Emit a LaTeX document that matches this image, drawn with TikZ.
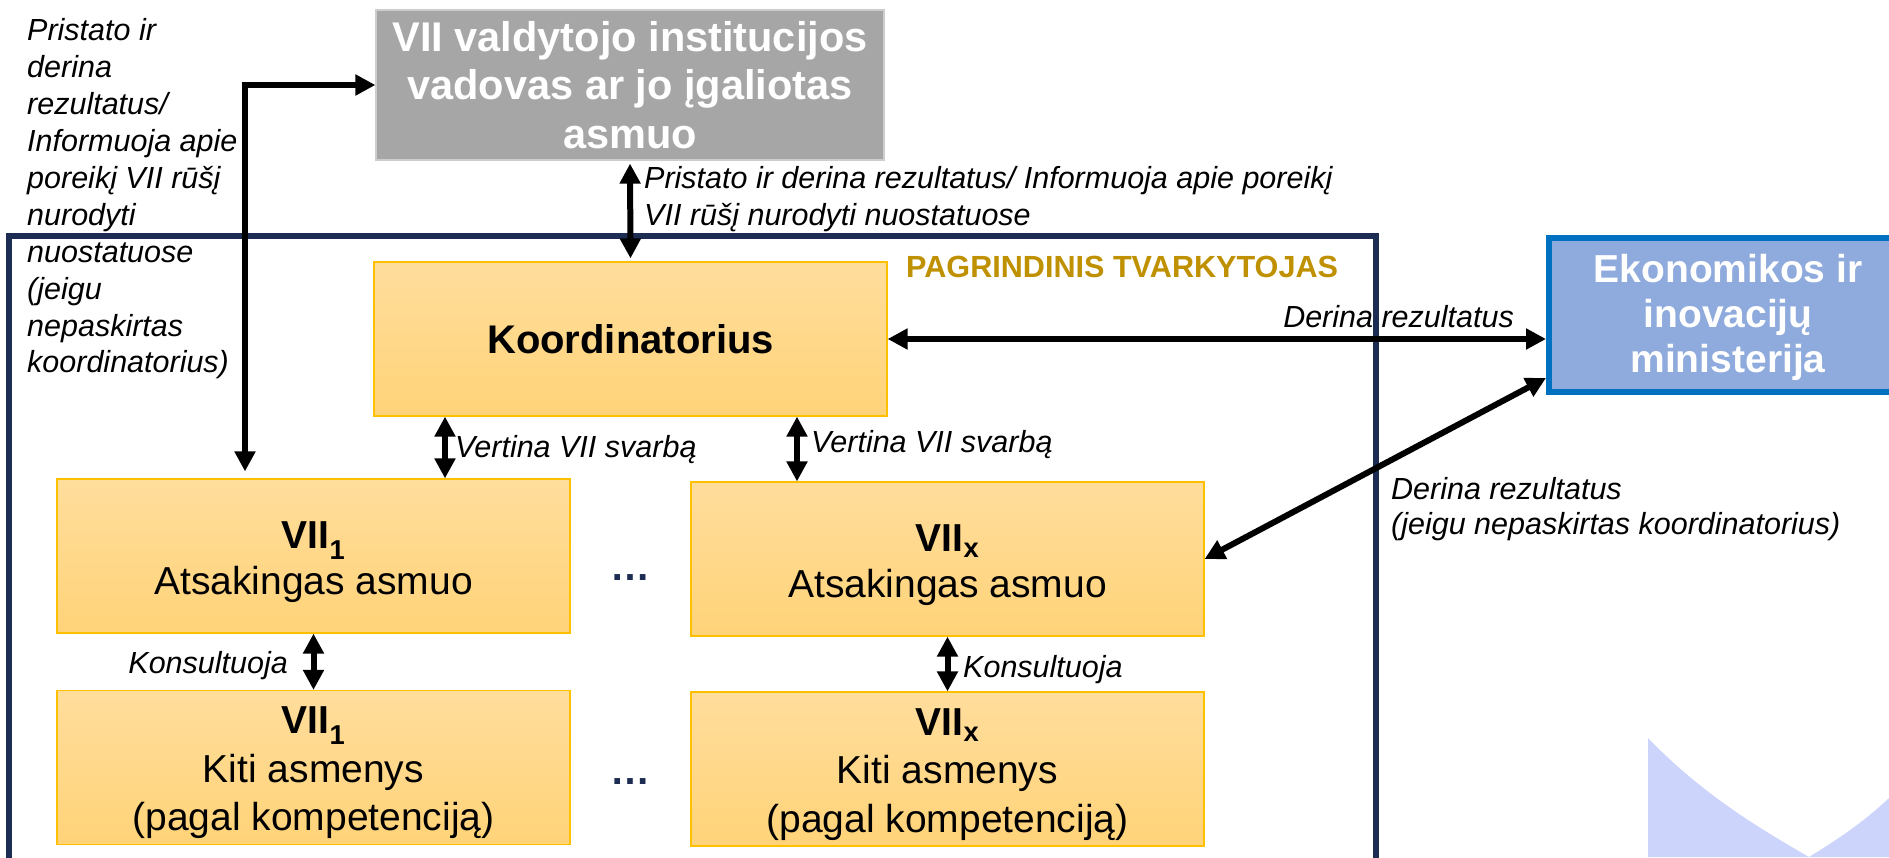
\documentclass[tikz,border=0pt]{standalone}
\usepackage{fontspec}
\setmainfont{Liberation Sans}
\usetikzlibrary{arrows.meta}
\definecolor{navy}{RGB}{28,44,82}
\definecolor{boxtop}{RGB}{255,221,156}
\definecolor{boxbot}{RGB}{255,211,120}
\definecolor{boxline}{RGB}{255,192,0}
\definecolor{grayfill}{RGB}{166,166,166}
\definecolor{grayline}{RGB}{205,205,205}
\definecolor{ekonfill}{RGB}{143,170,220}
\definecolor{ekonline}{RGB}{0,112,192}
\definecolor{goldtext}{RGB}{191,144,0}
\definecolor{wmark}{RGB}{204,212,252}
\begin{document}
\begin{tikzpicture}[x=1pt,y=-1pt,
  arr/.style={line width=6pt, {Triangle[length=20pt,width=20pt]}-{Triangle[length=20pt,width=20pt]}},
  obox/.style={draw=boxline, line width=1.2pt, top color=boxtop, bottom color=boxbot,
    minimum width=513pt, minimum height=154pt, inner sep=0pt, align=center,
    font=\fontsize{39}{46}\selectfont},
  graybox/.style={draw=grayline, line width=1.2pt, fill=grayfill, text=white,
    minimum width=508pt, minimum height=150pt, inner sep=0pt, align=center,
    font=\fontsize{41.5}{48.5}\selectfont\bfseries},
  ekonbox/.style={draw=ekonline, line width=6pt, fill=ekonfill, text=white,
    minimum width=358pt, minimum height=154pt, inner sep=0pt, align=center,
    font=\fontsize{39}{45}\selectfont\bfseries},
  lbl/.style={inner sep=0pt, font=\fontsize{30.5}{36.9}\selectfont\itshape},
  dotsnode/.style={inner sep=0pt, text=navy, font=\fontsize{40}{45}\selectfont\bfseries}
]
\useasboundingbox (0,0) rectangle (1889,857);
\clip (0,0) rectangle (1889,857);
% watermark shape
\fill[wmark] (1648,738) .. controls (1700,792) and (1755,826) .. (1809,857) -- (1648,857) -- cycle;
\fill[wmark] (1809,857) .. controls (1840,838) and (1866,820) .. (1889,798) -- (1889,857) -- cycle;
% frame
\draw[navy, line width=6pt] (9,880) -- (9,236) -- (1376,236) -- (1376,880);
% boxes
\node[graybox] (gray) at (630,85) {VII valdytojo institucijos\\vadovas ar jo įgaliotas\\asmuo};
\node[obox, font=\fontsize{40}{47}\selectfont\bfseries] (koord) at (630.5,339) {Koordinatorius};
\node[obox] (v1a) at (313.5,556) {{\bfseries\rule{0pt}{40pt}VII\textsubscript{1}}\\Atsakingas asmuo};
\node[obox] (vxa) at (947.5,559) {{\bfseries\rule{0pt}{40pt}VII\textsubscript{x}}\\Atsakingas asmuo};
\node[obox, font=\fontsize{39}{48.5}\selectfont] (v1k) at (313.5,767.5) {{\bfseries\rule{0pt}{38pt}VII\textsubscript{1}}\\Kiti asmenys\\(pagal kompetenciją)};
\node[obox, font=\fontsize{39}{48.5}\selectfont] (vxk) at (947.5,769) {{\bfseries\rule{0pt}{38pt}VII\textsubscript{x}}\\Kiti asmenys\\(pagal kompetenciją)};
\node[ekonbox] (ekon) at (1728,315) {\rule{0pt}{33pt}Ekonomikos ir\\inovacijų\\ministerija};
% title of frame
\node[anchor=west, inner sep=0pt, text=goldtext, font=\fontsize{30.6}{36}\selectfont\bfseries] (ptv) at (906,267) {PAGRINDINIS TVARKYTOJAS};
% ellipses
\node[dotsnode, anchor=base] (dots1) at (630,580) {…};
\node[dotsnode, anchor=base] (dots2) at (630,784) {…};
% labels
\node[lbl, anchor=west, align=left] (lblL) at (27,199) {Pristato ir\\derina\\rezultatus/\\Informuoja apie\\poreikį VII rūšį\\nurodyti\\nuostatuose\\(jeigu\\nepaskirtas\\koordinatorius)};
\node[lbl, anchor=west, align=left] (lblT) at (644,199) {Pristato ir derina rezultatus/ Informuoja apie poreikį\\VII rūšį nurodyti nuostatuose};
\node[lbl, anchor=east] (lblD) at (1514,317) {Derina rezultatus};
\node[lbl, anchor=west] (lblV1) at (455,450) {Vertina VII svarbą};
\node[lbl, anchor=west] (lblV2) at (811,445) {Vertina VII svarbą};
\node[lbl, anchor=east] (lblK1) at (288,666) {Konsultuoja};
\node[lbl, anchor=west] (lblK2) at (963,670) {Konsultuoja};
\node[lbl, anchor=west, align=left, font=\fontsize{30.5}{34.5}\selectfont\itshape] (lblD2) at (1391,509) {Derina rezultatus\\(jeigu nepaskirtas koordinatorius)};
% helper coordinates
\coordinate (Lc) at (245,85);
\coordinate (vl) at (445,0);
\coordinate (vr) at (797,0);
% connectors
\draw[arr, shorten >=7pt] (gray.west) -- (Lc) -- (Lc |- v1a.north);
\draw[arr, shorten <=3pt, shorten >=3pt] (gray.south) -- (koord.north);
\draw[arr] (koord.east) -- (koord.east -| ekon.west);
\draw[arr] (koord.south -| vl) -- (v1a.north -| vl);
\draw[arr] (koord.south -| vr) -- (vxa.north -| vr);
\draw[arr] (v1a.south) -- (v1k.north);
\draw[arr] (vxa.south) -- (vxk.north);
\draw[arr] ([yshift=17pt]ekon.south west) -- (vxa.east);
\end{tikzpicture}
\end{document}
